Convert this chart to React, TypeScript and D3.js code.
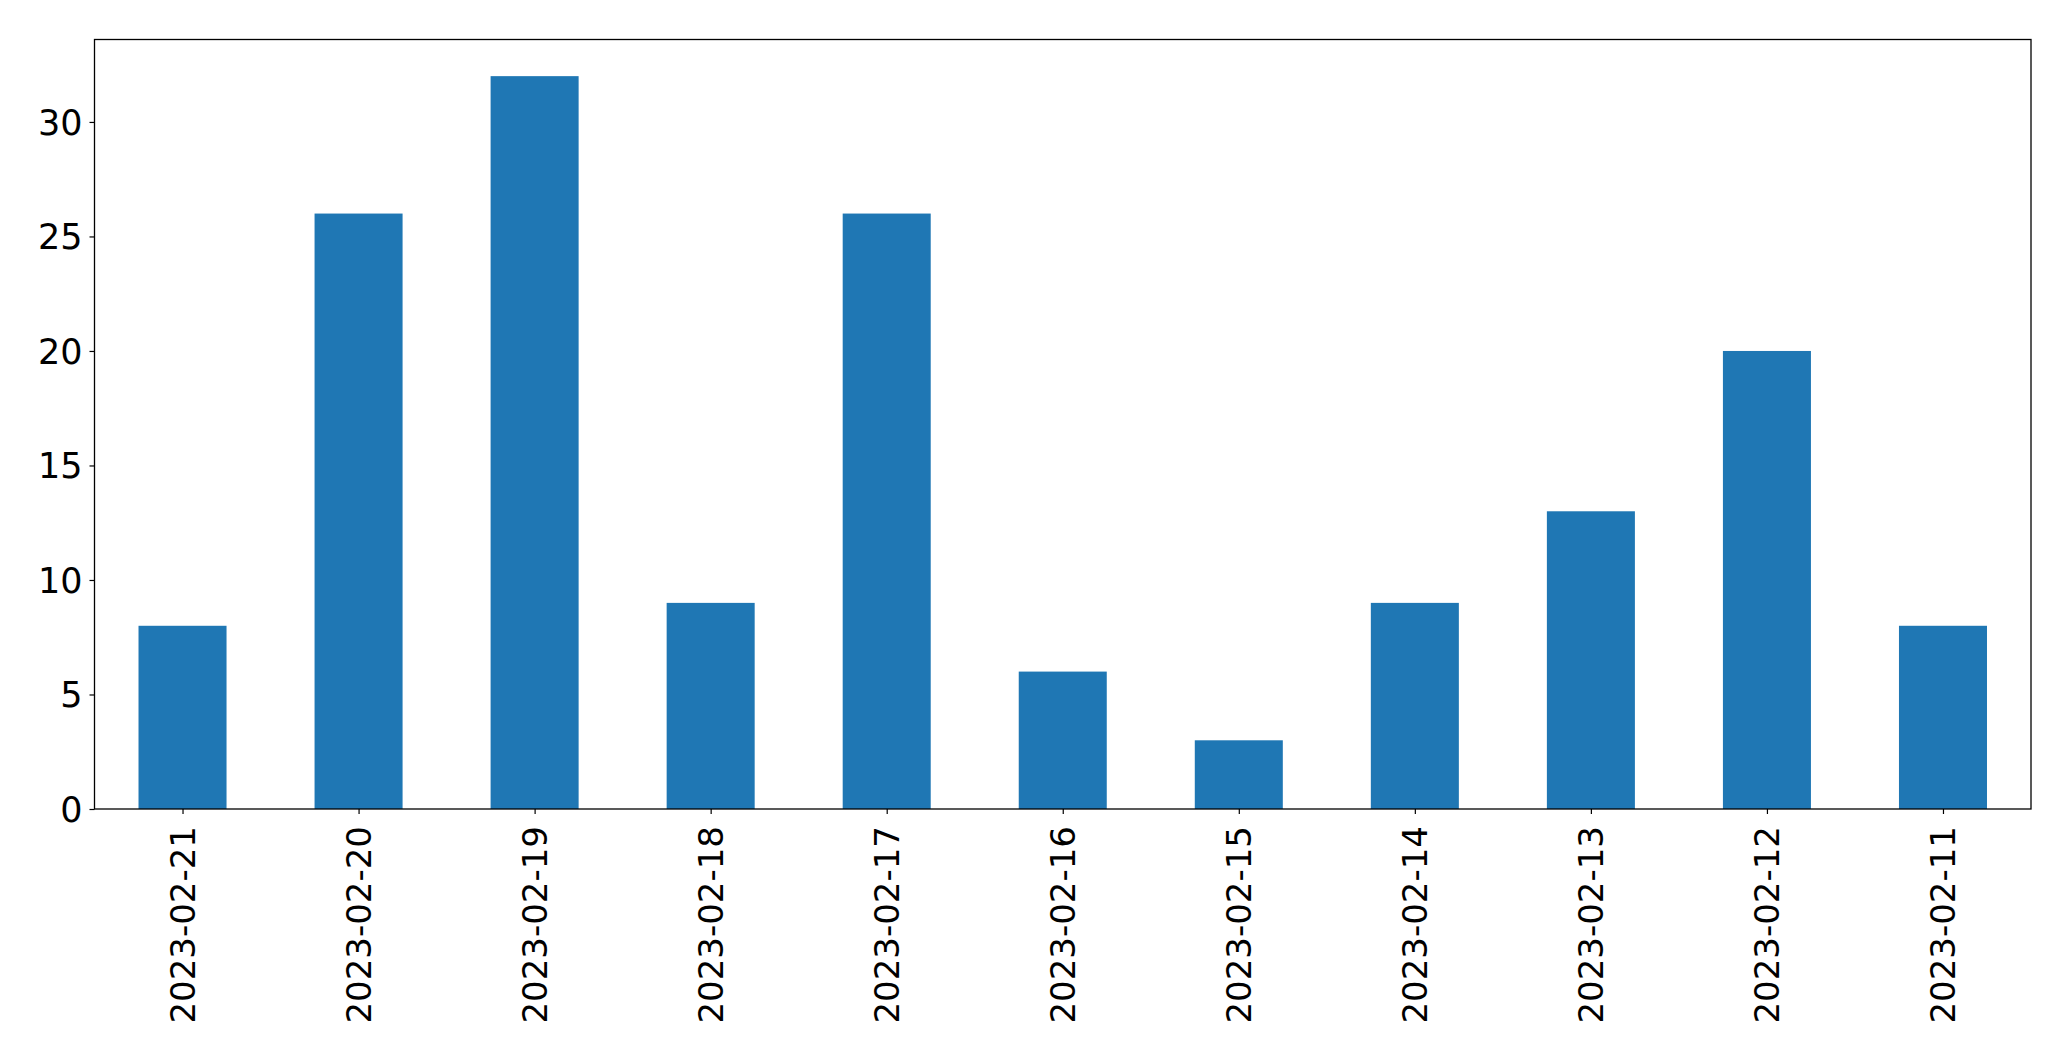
import React from 'react';
import * as d3 from 'd3';

const width = 2071;
const height = 1061;
const margin = {top: 39.5, right: 40, bottom: 252, left: 94.5};
const blue = '#1f77b4';
const fontFamily = '"DejaVu Sans", sans-serif';
const xFontSize = 34;
const yFontSize = 35;

const dates = [
  '2023-02-21', '2023-02-20', '2023-02-19', '2023-02-18', '2023-02-17', '2023-02-16',
  '2023-02-15', '2023-02-14', '2023-02-13', '2023-02-12', '2023-02-11',
];
const counts = [8, 26, 32, 9, 26, 6, 3, 9, 13, 20, 8];
const yTicks = [0, 5, 10, 15, 20, 25, 30];

const App: React.FC = () => {
  const xAxisRef = React.useRef<SVGGElement>(null);
  const yAxisRef = React.useRef<SVGGElement>(null);

  const innerRight = width - margin.right;
  const innerBottom = height - margin.bottom;

  // matplotlib-like category axis: positions 0..n-1, padded by half a step
  const xScale = d3.scaleLinear()
    .domain([-0.5, dates.length - 0.5])
    .range([margin.left, innerRight]);

  const yMax = (d3.max(counts) as number) * 1.05;
  const yScale = d3.scaleLinear()
    .domain([0, yMax])
    .range([innerBottom, margin.top]);

  const barWidth = xScale(0.5) - xScale(0);

  React.useEffect(() => {
    const xAxis = d3.axisBottom(xScale)
      .tickValues(dates.map((_, i) => i))
      .tickFormat((d) => dates[d as number])
      .tickSize(5)
      .tickSizeOuter(0);

    const yAxis = d3.axisLeft(yScale)
      .tickValues(yTicks)
      .tickFormat((d) => `${d}`)
      .tickSize(5)
      .tickSizeOuter(0);

    if (xAxisRef.current) {
      const g = d3.select(xAxisRef.current).call(xAxis);
      g.select('.domain').remove();
      g.selectAll('.tick line').attr('stroke', '#000').attr('stroke-width', 1.2);
      g.selectAll<SVGTextElement, unknown>('.tick text')
        .attr('font-family', fontFamily)
        .attr('font-size', xFontSize)
        .attr('fill', '#000')
        .attr('transform', 'rotate(-90)')
        .attr('x', -17)
        .attr('y', 0)
        .attr('dy', '0.35em')
        .attr('text-anchor', 'end');
    }

    if (yAxisRef.current) {
      const g = d3.select(yAxisRef.current).call(yAxis);
      g.select('.domain').remove();
      g.selectAll('.tick line').attr('stroke', '#000').attr('stroke-width', 1.2);
      g.selectAll('.tick text')
        .attr('font-family', fontFamily)
        .attr('font-size', yFontSize)
        .attr('fill', '#000')
        .attr('x', -12)
        .attr('dy', '0.35em');
    }
  }, []);

  return (
    <svg width={width} height={height} style={{position: 'absolute', left: 0, top: 0, background: '#fff'}}>
      <rect x={0} y={0} width={width} height={height} fill='#fff' />
      {counts.map((v, i) => (
        <rect
          key={dates[i]}
          x={xScale(i) - barWidth / 2}
          y={yScale(v)}
          width={barWidth}
          height={yScale(0) - yScale(v)}
          fill={blue}
        />
      ))}
      <rect
        x={margin.left}
        y={margin.top}
        width={innerRight - margin.left}
        height={innerBottom - margin.top}
        fill='none'
        stroke='#000'
        strokeWidth={1.3}
      />
      <g ref={xAxisRef} transform={`translate(0, ${innerBottom})`} />
      <g ref={yAxisRef} transform={`translate(${margin.left}, 0)`} />
    </svg>
  );
};

export default App;
